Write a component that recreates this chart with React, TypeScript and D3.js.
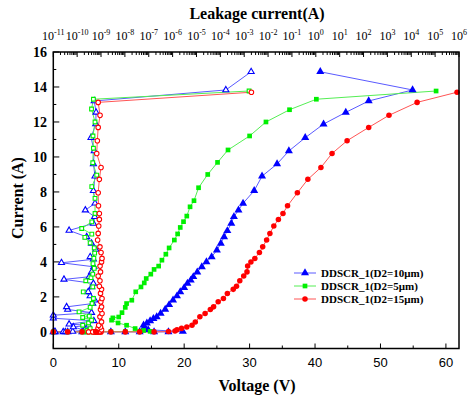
import * as d3 from 'd3';
import * as React from 'react';

// tick values
const voltTicks = [0, 10, 20, 30, 40, 50, 60];
const currentTicks = [0, 2, 4, 6, 8, 10, 12, 14, 16];
const leakExponents = [-11, -10, -9, -8, -7, -6, -5, -4, -3, -2, -1, 0, 1, 2, 3, 4, 5, 6];

const seriesNames = ['DDSCR_1(D2=10μm)', 'DDSCR_1(D2=5μm)', 'DDSCR_1(D2=15μm)'];

// TLP I-V : [voltage V, current A]
const ivBlue = [
  [0, 0], [2.2, 0], [4.4, 0], [6.6, 0], [8.8, 0], [11, 0], [13.2, 0], [15.4, 0], [17.6, 0], [19.8, 0.02],
  [14.5, 0.12], [13.9, 0.25], [13.8, 0.38], [14.3, 0.5], [14.8, 0.63], [15.3, 0.75], [15.8, 0.86], [16.4, 1.05],
  [17.1, 1.28], [17.7, 1.55], [18.3, 1.81], [18.9, 2.05], [19.4, 2.29], [20.0, 2.52], [20.5, 2.77], [21.0, 2.95],
  [21.4, 3.15], [22.0, 3.42], [22.7, 3.72], [23.4, 4.0], [24.2, 4.29], [25.0, 4.67], [25.6, 5.06], [26.1, 5.43],
  [26.6, 5.78], [27.2, 6.2], [27.6, 6.58], [28.3, 6.96], [29.0, 7.35], [30.7, 8.07], [31.9, 8.9], [34.2, 9.6],
  [36.0, 10.34], [38.5, 11.1], [41.3, 11.88], [44.7, 12.55], [48.2, 13.2], [54.9, 13.83], [40.8, 14.87],
];

const ivGreen = [
  [0, 0], [2.2, 0], [4.4, 0], [6.6, 0.01], [8.8, 0.01], [11, 0.02], [13.2, 0.02], [14.8, 0.03],
  [13.8, 0.08], [12.5, 0.19], [11.2, 0.38], [9.9, 0.51], [8.9, 0.67], [9.1, 0.8], [10.0, 0.85], [10.5, 1.1],
  [11.0, 1.4], [11.2, 1.62], [12.0, 1.81], [12.6, 2.29], [13.4, 2.57], [13.9, 2.8], [14.2, 3.05], [14.9, 3.3],
  [15.4, 3.57], [16.1, 3.76], [16.6, 4.1], [17.2, 4.44], [17.7, 4.8], [18.5, 5.25], [19.0, 5.6], [19.4, 5.97],
  [19.9, 6.3], [20.4, 6.62], [20.9, 7.15], [21.5, 7.5], [22.2, 8.24], [23.6, 9.0], [25.1, 9.69], [26.7, 10.4],
  [30.0, 11.2], [32.5, 12.0], [36.1, 12.7], [40.2, 13.3], [58.5, 13.77],
];

const ivRed = [
  [0, 0], [2.2, 0], [4.4, 0], [6.6, 0], [8.8, 0], [11, 0], [13.2, 0], [15.4, 0], [17.6, 0.02], [18.6, 0.05],
  [18.9, 0.12], [19.6, 0.2], [20.4, 0.28], [21.2, 0.38], [21.7, 0.57], [22.4, 0.86], [23.2, 1.05], [24.0, 1.28],
  [24.5, 1.43], [25.2, 1.72], [26.0, 1.91], [26.6, 2.2], [27.5, 2.43], [28.0, 2.61], [28.5, 2.92], [29.1, 3.19],
  [29.6, 3.43], [29.7, 3.76], [30.2, 4.0], [30.8, 4.2], [31.5, 4.54], [32.0, 4.86], [32.6, 5.25], [33.1, 5.63],
  [33.7, 6.05], [34.4, 6.43], [35.1, 6.77], [35.8, 7.21], [37.3, 7.95], [38.9, 8.72], [40.9, 9.4], [42.6, 10.2],
  [44.9, 10.93], [48.2, 11.69], [51.3, 12.38], [55.6, 13.12], [61.7, 13.7],
];

// leakage after each pulse : [leakage A, current A]
const leakBlue = [
  [1.1e-11, 0], [2.6e-11, 0], [1.2e-11, 0], [3.2e-11, 0], [6.5e-11, 0.02], [2.0e-10, 0.1], [6.9e-11, 0.28],
  [3.0e-10, 0.38], [4.6e-11, 0.44], [5.0e-10, 0.63], [1.0e-11, 0.78], [1.0e-11, 0.95], [4.0e-10, 1.1],
  [4.0e-11, 1.28], [3.6e-11, 1.43], [4.5e-10, 1.62], [5.5e-10, 1.81], [3.5e-10, 2.05], [2.9e-10, 2.29],
  [4.1e-10, 2.57], [4.8e-10, 2.77], [2.8e-11, 3.0], [3.2e-10, 3.15], [4.0e-10, 3.42], [5.0e-10, 3.72],
  [2.2e-11, 3.95], [4.8e-10, 4.15], [3.5e-10, 4.29], [6.0e-10, 4.71], [4.0e-10, 5.06], [2.5e-10, 5.43],
  [4.6e-11, 5.8], [4.8e-10, 6.2], [5.4e-10, 6.58], [2.2e-10, 6.96], [5.6e-10, 7.35], [4.8e-10, 8.07],
  [5.6e-10, 8.9], [4.8e-10, 9.6], [5.2e-10, 10.34], [3.8e-10, 11.1], [6.0e-10, 11.88], [6.2e-10, 12.55],
  [5.2e-10, 13.2], [1.7e-4, 13.83], [1.95e-3, 14.87],
];

const leakGreen = [
  [2.0e-10, 0], [3.0e-10, 0], [4.5e-10, 0], [2.5e-10, 0.01], [5.2e-10, 0.01], [3.5e-10, 0.02], [4.0e-10, 0.02],
  [3.0e-10, 0.03], [2.6e-10, 0.08], [3.5e-10, 0.19], [1.7e-10, 0.38], [3.0e-10, 0.51], [4.0e-10, 0.67],
  [1.7e-10, 0.82], [3.2e-10, 0.9], [1.2e-10, 1.14], [3.5e-10, 1.4], [4.2e-10, 1.62], [4.8e-10, 1.91],
  [1.8e-10, 2.29], [4.5e-10, 2.57], [2.3e-10, 2.92], [3.8e-10, 3.1], [4.5e-10, 3.3], [5.2e-10, 3.63],
  [4.6e-10, 3.9], [5.0e-10, 4.2], [5.4e-10, 4.5], [5.2e-10, 4.8], [3.5e-10, 5.09], [2.1e-10, 5.4],
  [4.1e-10, 5.59], [1.55e-10, 5.91], [4.1e-10, 6.29], [5.6e-10, 6.77], [5.6e-10, 7.63], [4.1e-10, 8.3],
  [6.6e-10, 8.96], [4.5e-10, 9.67], [4.8e-10, 10.5], [4.6e-10, 11.2], [5.6e-10, 12.0], [4.0e-10, 12.74],
  [4.8e-10, 13.3], [1.6e-3, 13.77],
];

const leakRed = [
  [5.5e-10, 0], [8.0e-10, 0], [3.0e-10, 0], [6.5e-10, 0], [1.0e-9, 0], [4.5e-10, 0], [8.8e-10, 0],
  [6.0e-10, 0.02], [9.0e-10, 0.05], [1.05e-9, 0.12], [7.5e-10, 0.2], [9.5e-10, 0.28], [8.0e-10, 0.38],
  [1.05e-9, 0.57], [9.0e-10, 0.86], [1.1e-9, 1.05], [9.5e-10, 1.28], [1.05e-9, 1.43], [9.8e-10, 1.72],
  [1.1e-9, 1.91], [9.5e-10, 2.2], [1.05e-9, 2.43], [8.5e-10, 2.61], [9.0e-10, 2.92], [7.6e-10, 3.19],
  [9.5e-10, 3.43], [9.1e-10, 3.76], [1.05e-9, 4.0], [1.1e-9, 4.2], [1.0e-9, 4.54], [9.0e-10, 4.86],
  [7.2e-10, 5.25], [7.6e-10, 5.63], [8.0e-10, 6.05], [8.5e-10, 6.43], [8.5e-10, 6.77], [7.8e-10, 7.21],
  [7.6e-10, 7.95], [8.5e-10, 8.72], [1.0e-9, 9.4], [6.6e-10, 10.2], [7.0e-10, 10.93], [7.6e-10, 11.69],
  [9.1e-10, 12.38], [7.6e-10, 13.12], [2.0e-3, 13.7],
];

const serif = '"Liberation Serif", "Times New Roman", serif';
const sans = '"Liberation Sans", Arial, sans-serif';

const App = () => {
  const left = 53.3, right = 459, top = 52, bottom = 348.5;

  const x = d3.scaleLinear().domain([0, 62]).range([left, right]);
  const xl = d3.scaleLog().domain([1e-11, 1e6]).range([left, right]);
  const y = d3.scaleLinear().domain([-0.95, 16]).range([bottom, top]);

  const series = [
    { name: seriesNames[0], iv: ivBlue, leak: leakBlue, color: '#0000ff', line: '#5a5aff', sym: d3.symbolTriangle, size: 28, openSize: 16 },
    { name: seriesNames[1], iv: ivGreen, leak: leakGreen, color: '#00f000', line: '#55ee55', sym: d3.symbolSquare, size: 22, openSize: 14 },
    { name: seriesNames[2], iv: ivRed, leak: leakRed, color: '#ff0000', line: '#ff5555', sym: d3.symbolCircle, size: 24, openSize: 16 },
  ];

  const ivLine = d3.line<number[]>().x((d) => x(d[0])).y((d) => y(d[1]));
  const leakLine = d3.line<number[]>().x((d) => xl(d[0])).y((d) => y(d[1]));

  const minorCurrent = d3.range(1, 16, 2);
  const minorVolt = [5, 15, 25, 35, 45, 55];
  const leakMinor: number[] = [];
  leakExponents.slice(0, -1).forEach((e) => {
    for (let k = 2; k < 10; k++) leakMinor.push(k * Math.pow(10, e));
  });

  return (
    <svg width={473} height={399} style={{ position: 'absolute', left: 0, top: 0, background: '#fff' }}>
      {/* top title and labels */}
      <text x={257} y={19} textAnchor="middle" fontFamily={serif} fontWeight="bold" fontSize={16}>
        Leakage current(A)
      </text>
      {leakExponents.map((e) => (
        <text key={'tl' + e} x={xl(Math.pow(10, e))} y={40} textAnchor="middle" fontFamily={serif} fontSize={12}>
          10<tspan dy={-5} fontSize={8}>{e}</tspan>
        </text>
      ))}

      {/* axes ticks */}
      <g stroke="#000" strokeWidth={1}>
        {leakExponents.map((e) => (
          <line key={'tM' + e} x1={xl(Math.pow(10, e))} x2={xl(Math.pow(10, e))} y1={top} y2={top + 5} />
        ))}
        {leakMinor.map((v, i) => (
          <line key={'tm' + i} x1={xl(v)} x2={xl(v)} y1={top} y2={top + 3} />
        ))}
        {currentTicks.map((c) => (
          <line key={'yM' + c} x1={left} x2={left + 6} y1={y(c)} y2={y(c)} />
        ))}
        {minorCurrent.map((c) => (
          <line key={'ym' + c} x1={left} x2={left + 3} y1={y(c)} y2={y(c)} />
        ))}
        {voltTicks.map((v) => (
          <line key={'xM' + v} x1={x(v)} x2={x(v)} y1={bottom} y2={bottom - 5} />
        ))}
        {minorVolt.map((v) => (
          <line key={'xm' + v} x1={x(v)} x2={x(v)} y1={bottom} y2={bottom - 3} />
        ))}
      </g>

      {currentTicks.map((c) => (
        <text key={'yl' + c} x={47} y={y(c) + 5} textAnchor="end" fontFamily={serif} fontWeight="bold" fontSize={14}>
          {c}
        </text>
      ))}
      {voltTicks.map((v) => (
        <text key={'xl' + v} x={x(v)} y={367} textAnchor="middle" fontFamily={sans} fontSize={13}>
          {v}
        </text>
      ))}
      <text x={257} y={391} textAnchor="middle" fontFamily={serif} fontWeight="bold" fontSize={16}>
        Voltage (V)
      </text>
      <text transform="translate(23,198) rotate(-90)" textAnchor="middle" fontFamily={serif} fontWeight="bold" fontSize={16}>
        Current (A)
      </text>

      {/* series */}
      {series.map((s) => (
        <g key={s.name}>
          <path d={ivLine(s.iv) || ''} fill="none" stroke={s.line} strokeWidth={1} />
          <path d={leakLine(s.leak) || ''} fill="none" stroke={s.line} strokeWidth={1} />
        </g>
      ))}
      {series.map((s) => (
        <g key={s.name + 'pts'}>
          {s.leak.map((d, i) => (
            <path
              key={'o' + i}
              transform={`translate(${xl(d[0])},${y(d[1])})`}
              d={d3.symbol(s.sym, s.openSize)() || ''}
              fill="#fff"
              stroke={s.color}
              strokeWidth={1.1}
            />
          ))}
          {s.iv.map((d, i) => (
            <path
              key={'f' + i}
              transform={`translate(${x(d[0])},${y(d[1])})`}
              d={d3.symbol(s.sym, s.size)() || ''}
              fill={s.color}
            />
          ))}
        </g>
      ))}

      {/* frame */}
      <rect x={left} y={top} width={right - left} height={bottom - top} fill="none" stroke="#000" strokeWidth={1.5} />

      {/* legend */}
      {series.map((s, i) => (
        <g key={'lg' + i} transform={`translate(0,${273 + i * 13})`}>
          <line x1={294} x2={316} y1={0} y2={0} stroke={s.line} strokeWidth={1} />
          <path transform="translate(305,0)" d={d3.symbol(s.sym, s.size)() || ''} fill={s.color} />
          <text x={321} y={4} fontFamily={serif} fontWeight="bold" fontSize={11}>
            {s.name}
          </text>
        </g>
      ))}
    </svg>
  );
};

export default App;
